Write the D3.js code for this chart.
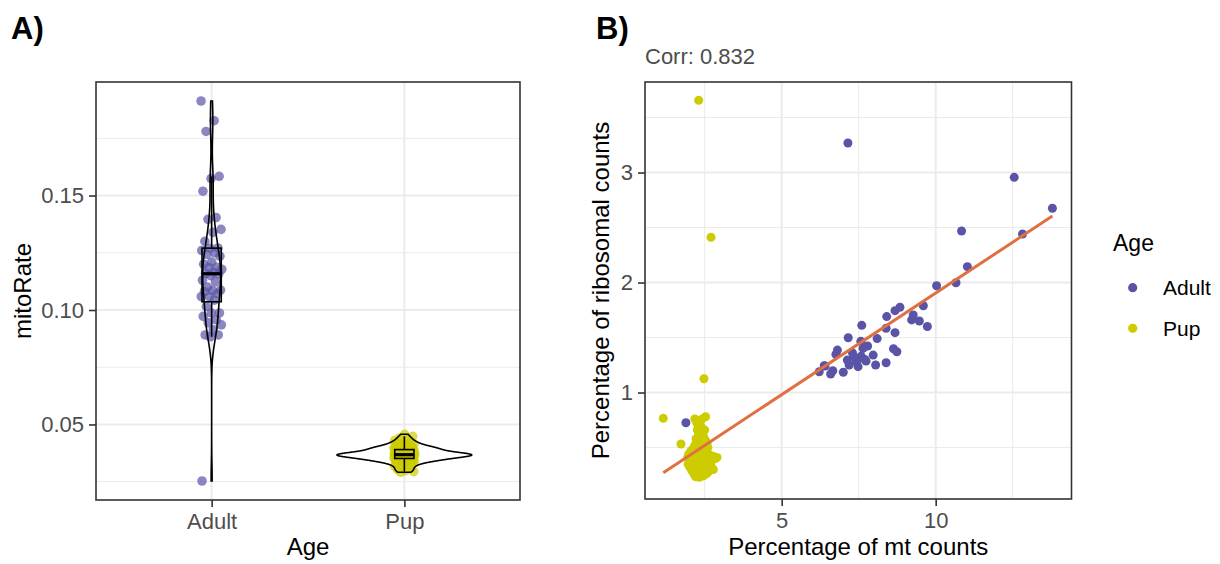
<!DOCTYPE html>
<html><head><meta charset="utf-8">
<script src="https://cdn.jsdelivr.net/npm/d3@7/dist/d3.min.js"></script>
<style>
body{margin:0;background:#fff}
text{font-family:"Liberation Sans",Arial,Helvetica,sans-serif}
</style>
</head><body>
<svg id="c" width="1220" height="564"></svg>
<script>
// ---------- DATA ----------
const groups = ["Adult", "Pup"];
const adultRate = [0.1913,0.1827,0.1780,0.1584,0.1574,0.1519,0.1404,0.1396,0.1352,0.1339,
  0.1300,0.1271,0.1270,0.1260,0.1250,0.1243,0.1235,0.1210,0.1200,0.1187,
  0.1185,0.1178,0.1165,0.1160,0.1157,0.1150,0.1130,0.1123,0.1100,0.1087,
  0.1085,0.1080,0.1072,0.1058,0.1058,0.1043,0.1015,0.0987,0.0987,0.0972,
  0.0957,0.0944,0.0935,0.0913,0.0891,0.0891,0.0883,0.0253];
const pupRate = [0.0291,0.0294,0.0298,0.0303,0.0308,0.0313,0.0318,0.0322,0.0326,0.0329,
  0.0332,0.0335,0.0337,0.0339,0.0340,0.0342,0.0343,0.0344,0.0345,0.0346,
  0.0347,0.0348,0.0349,0.0350,0.0350,
  0.0352,0.0353,0.0354,0.0355,0.0356,0.0357,0.0358,0.0359,0.0360,0.0361,
  0.0362,0.0363,0.0364,0.0364,0.0365,0.0365,0.0366,0.0366,0.0366,0.0367,
  0.0367,0.0367,0.0367,0.0368,0.0368,
  0.0368,0.0369,0.0369,0.0369,0.0370,0.0370,0.0370,0.0371,0.0371,0.0372,
  0.0372,0.0373,0.0374,0.0375,0.0376,0.0377,0.0379,0.0380,0.0382,0.0383,
  0.0385,0.0386,0.0388,0.0389,0.0390,
  0.0391,0.0392,0.0393,0.0394,0.0395,0.0396,0.0397,0.0398,0.0399,0.0400,
  0.0402,0.0404,0.0406,0.0408,0.0410,0.0413,0.0416,0.0419,0.0422,0.0426,
  0.0430,0.0435,0.0441,0.0448,0.0457];
const rateTicks = [0.05, 0.10, 0.15];
const rateMinor = [0.025, 0.075, 0.125, 0.175];

const adultMt = [1.89,7.15,12.55,13.79,12.82,10.84,11.03,10.66,10.03,9.60,
  8.84,8.68,8.41,9.27,9.22,9.47,9.73,8.39,7.60,8.68,
  7.16,8.10,7.57,7.79,7.64,8.63,8.74,6.81,6.76,7.97,
  7.33,7.55,7.13,7.43,7.74,7.19,7.48,8.05,8.39,6.38,
  6.22,6.66,6.59,7.00,6.41,7.58,7.30,7.70];
const adultRibo = [0.725,3.268,2.956,2.675,2.441,2.468,2.144,1.998,1.971,1.789,
  1.775,1.744,1.690,1.705,1.660,1.650,1.600,1.584,1.611,1.544,
  1.498,1.490,1.465,1.423,1.401,1.398,1.371,1.386,1.347,1.340,
  1.326,1.320,1.295,1.280,1.286,1.250,1.235,1.250,1.271,1.244,
  1.189,1.198,1.168,1.184,1.240,1.330,1.360,1.300];
const pupMt = [2.305,2.705,2.477,1.156,2.53,1.73,
  2.18,2.25,2.32,2.40,2.45,2.50,2.30,2.38,2.22,2.52,2.44,2.28,2.35,2.48,2.15,2.60,
  2.05,2.20,2.33,2.45,2.58,
  1.98,2.10,2.25,2.38,2.52,2.66,2.78,
  1.95,2.08,2.18,2.30,2.42,2.55,2.68,2.85,
  2.00,2.12,2.24,2.36,2.48,2.60,2.72,
  1.96,2.06,2.18,2.28,2.40,2.50,2.62,2.70,
  2.02,2.14,2.24,2.34,2.45,2.56,2.66,
  2.08,2.18,2.30,2.40,2.52,2.62,
  2.15,2.26,2.36,2.46,2.56,
  2.22,2.32,2.42,2.12,2.50,2.28,2.40,2.20,2.58,2.35,2.46,2.26,2.36,2.42,
  2.20,2.32,2.44,2.90,2.78];
const pupRibo = [3.656,2.411,1.125,0.765,0.780,0.532,
  0.76,0.72,0.74,0.68,0.64,0.66,0.62,0.60,0.58,0.57,0.55,0.55,0.52,0.51,0.50,0.50,
  0.47,0.47,0.46,0.47,0.46,
  0.44,0.44,0.43,0.44,0.43,0.43,0.42,
  0.41,0.40,0.41,0.40,0.41,0.40,0.40,0.40,
  0.38,0.37,0.38,0.37,0.38,0.37,0.38,
  0.35,0.34,0.35,0.34,0.35,0.34,0.35,0.34,
  0.32,0.31,0.32,0.31,0.32,0.31,0.32,
  0.29,0.28,0.29,0.28,0.29,0.28,
  0.26,0.25,0.26,0.25,0.26,
  0.30,0.36,0.30,0.42,0.45,0.49,0.50,0.53,0.54,0.58,0.60,0.66,0.70,0.76,
  0.235,0.23,0.24,0.41,0.30];
const lmCoef = [0.0575, 0.1847];           // intercept, slope of fitted line
const mtTicks = [5, 10], mtMinor = [2.5, 7.5, 12.5];
const riboTicks = [1, 2, 3], riboMinor = [0.5, 1.5, 2.5, 3.5];
const corrLabel = "Corr: 0.832";

// ---------- STYLE ----------
const colAdult = "#5A54A6", colPup = "#CCCC00", colFit = "#E07042";
const gridCol = "#EBEBEB", borderCol = "#333333", tickTextCol = "#4D4D4D";
const tickFS = 22, titleFS = 24;

const svg = d3.select("#c");

// ================= PANEL A =================
const A = {l: 96, t: 82, r: 520, b: 500};
const xA = d3.scalePoint().domain(groups).range([A.l, A.r]).padding(0.6);
const stepA = xA.step();
const allRate = adultRate.concat(pupRate);
const rExt = d3.extent(allRate), rPad = (rExt[1] - rExt[0]) * 0.05;
const yA = d3.scaleLinear().domain([rExt[0] - rPad, rExt[1] + rPad]).range([A.b, A.t]);

const gA = svg.append("g");
gA.selectAll(".mnA").data(rateMinor).join("line")
  .attr("x1", A.l).attr("x2", A.r).attr("y1", d => yA(d)).attr("y2", d => yA(d))
  .attr("stroke", gridCol).attr("stroke-width", 1);
gA.selectAll(".mjA").data(rateTicks).join("line")
  .attr("x1", A.l).attr("x2", A.r).attr("y1", d => yA(d)).attr("y2", d => yA(d))
  .attr("stroke", gridCol).attr("stroke-width", 2);
gA.selectAll(".vjA").data(groups).join("line")
  .attr("x1", d => xA(d)).attr("x2", d => xA(d)).attr("y1", A.t).attr("y2", A.b)
  .attr("stroke", gridCol).attr("stroke-width", 2);

// jittered points (deterministic spread)
const jitter = i => ((i * 0.6180339887) % 1 - 0.5) * 2 * 0.055 * stepA;
const rateSets = [adultRate, pupRate];
const rateCols = [colAdult, colPup];
rateSets.forEach((arr, gi) => {
  gA.append("g").selectAll("circle").data(arr).join("circle")
    .attr("cx", (d, i) => xA(groups[gi]) + jitter(i + gi * 7))
    .attr("cy", d => yA(d)).attr("r", 4.8)
    .attr("fill", rateCols[gi]).attr("fill-opacity", 0.7);
});

// violins (gaussian KDE, nrd0 bandwidth, trimmed)
function kde(arr) {
  const n = arr.length, s = arr.slice().sort(d3.ascending);
  const sd = d3.deviation(s);
  const iqr = d3.quantileSorted(s, 0.75) - d3.quantileSorted(s, 0.25);
  const bw = 0.9 * Math.min(sd, iqr / 1.34) * Math.pow(n, -0.2);
  const lo = s[0], hi = s[n - 1], pts = [];
  for (let k = 0; k < 512; k++) {
    const v = lo + (hi - lo) * k / 511;
    let sum = 0;
    for (const x of s) { const z = (v - x) / bw; sum += Math.exp(-0.5 * z * z); }
    pts.push([v, sum / (n * bw * Math.sqrt(2 * Math.PI))]);
  }
  return pts;
}
const dens = rateSets.map(kde);
const maxD = d3.max(dens, d => d3.max(d, p => p[1]));
const violinHalf = 0.35 * stepA;
dens.forEach((pts, gi) => {
  const cx = xA(groups[gi]);
  const right = pts.map(p => [cx + p[1] / maxD * violinHalf, yA(p[0])]);
  const left = pts.slice().reverse().map(p => [cx - p[1] / maxD * violinHalf, yA(p[0])]);
  gA.append("path").attr("d", d3.line()(right.concat(left)) + "Z")
    .attr("fill", "none").attr("stroke", "#000").attr("stroke-width", 1.6);
});

// boxplots
const boxHalf = 0.05 * stepA;
rateSets.forEach((arr, gi) => {
  const s = arr.slice().sort(d3.ascending);
  const q1 = d3.quantileSorted(s, 0.25), med = d3.quantileSorted(s, 0.5), q3 = d3.quantileSorted(s, 0.75);
  const iq = q3 - q1;
  const wLo = d3.min(s.filter(v => v >= q1 - 1.5 * iq));
  const wHi = d3.max(s.filter(v => v <= q3 + 1.5 * iq));
  const cx = xA(groups[gi]);
  const g = gA.append("g").attr("stroke", "#000").attr("fill", "none");
  g.append("line").attr("x1", cx).attr("x2", cx).attr("y1", yA(q3)).attr("y2", yA(wHi)).attr("stroke-width", 1.6);
  g.append("line").attr("x1", cx).attr("x2", cx).attr("y1", yA(q1)).attr("y2", yA(wLo)).attr("stroke-width", 1.6);
  g.append("rect").attr("x", cx - boxHalf).attr("width", 2 * boxHalf)
    .attr("y", yA(q3)).attr("height", yA(q1) - yA(q3)).attr("stroke-width", 1.6);
  g.append("line").attr("x1", cx - boxHalf).attr("x2", cx + boxHalf)
    .attr("y1", yA(med)).attr("y2", yA(med)).attr("stroke-width", 3.2);
});

gA.append("rect").attr("x", A.l).attr("y", A.t).attr("width", A.r - A.l).attr("height", A.b - A.t)
  .attr("fill", "none").attr("stroke", borderCol).attr("stroke-width", 1.6);

function styleAxis(sel) {
  sel.select(".domain").remove();
  sel.selectAll(".tick line").attr("stroke", borderCol).attr("stroke-width", 1.6);
  sel.selectAll(".tick text").attr("fill", tickTextCol).attr("font-size", tickFS)
    .attr("font-family", '"Liberation Sans",Arial,sans-serif');
}
svg.append("g").attr("transform", `translate(${A.l},0)`)
  .call(d3.axisLeft(yA).tickValues(rateTicks).tickFormat(d3.format(".2f")).tickSize(7).tickPadding(5))
  .call(styleAxis);
svg.append("g").attr("transform", `translate(0,${A.b})`)
  .call(d3.axisBottom(xA).tickSize(7).tickPadding(6))
  .call(styleAxis);

svg.append("text").attr("x", (A.l + A.r) / 2).attr("y", 555).attr("text-anchor", "middle")
  .attr("font-size", titleFS).text("Age");
svg.append("text").attr("transform", `translate(31,${(A.t + A.b) / 2}) rotate(-90)`)
  .attr("text-anchor", "middle").attr("font-size", titleFS).text("mitoRate");
svg.append("text").attr("x", 11).attr("y", 39).attr("font-size", 31).attr("font-weight", "bold").text("A)");

// ================= PANEL B =================
const B = {l: 645, t: 82, r: 1071.5, b: 499};
const xB = d3.scaleLinear().domain([0.562, 14.41]).range([B.l, B.r]);
const yB = d3.scaleLinear().domain([0.032, 3.823]).range([B.b, B.t]);
const gB = svg.append("g");
gB.selectAll(".mnBx").data(mtMinor).join("line")
  .attr("x1", d => xB(d)).attr("x2", d => xB(d)).attr("y1", B.t).attr("y2", B.b)
  .attr("stroke", gridCol).attr("stroke-width", 1);
gB.selectAll(".mnBy").data(riboMinor).join("line")
  .attr("y1", d => yB(d)).attr("y2", d => yB(d)).attr("x1", B.l).attr("x2", B.r)
  .attr("stroke", gridCol).attr("stroke-width", 1);
gB.selectAll(".mjBx").data(mtTicks).join("line")
  .attr("x1", d => xB(d)).attr("x2", d => xB(d)).attr("y1", B.t).attr("y2", B.b)
  .attr("stroke", gridCol).attr("stroke-width", 2);
gB.selectAll(".mjBy").data(riboTicks).join("line")
  .attr("y1", d => yB(d)).attr("y2", d => yB(d)).attr("x1", B.l).attr("x2", B.r)
  .attr("stroke", gridCol).attr("stroke-width", 2);

gB.append("g").selectAll("circle").data(adultMt).join("circle")
  .attr("cx", d => xB(d)).attr("cy", (d, i) => yB(adultRibo[i])).attr("r", 4.5).attr("fill", colAdult);
gB.append("g").selectAll("circle").data(pupMt).join("circle")
  .attr("cx", d => xB(d)).attr("cy", (d, i) => yB(pupRibo[i])).attr("r", 4.5).attr("fill", colPup);

const allMt = adultMt.concat(pupMt);
const fitX = d3.extent(allMt);
gB.append("path").datum(fitX)
  .attr("d", d3.line().x(d => xB(d)).y(d => yB(lmCoef[0] + lmCoef[1] * d)))
  .attr("stroke", colFit).attr("stroke-width", 3).attr("fill", "none");

gB.append("rect").attr("x", B.l).attr("y", B.t).attr("width", B.r - B.l).attr("height", B.b - B.t)
  .attr("fill", "none").attr("stroke", borderCol).attr("stroke-width", 1.6);

svg.append("g").attr("transform", `translate(${B.l},0)`)
  .call(d3.axisLeft(yB).tickValues(riboTicks).tickFormat(d3.format("d")).tickSize(7).tickPadding(5))
  .call(styleAxis);
svg.append("g").attr("transform", `translate(0,${B.b})`)
  .call(d3.axisBottom(xB).tickValues(mtTicks).tickFormat(d3.format("d")).tickSize(7).tickPadding(6))
  .call(styleAxis);

svg.append("text").attr("x", (B.l + B.r) / 2).attr("y", 555).attr("text-anchor", "middle")
  .attr("font-size", titleFS).text("Percentage of mt counts");
svg.append("text").attr("transform", `translate(609,${(B.t + B.b) / 2}) rotate(-90)`)
  .attr("text-anchor", "middle").attr("font-size", titleFS).text("Percentage of ribosomal counts");
svg.append("text").attr("x", 645).attr("y", 64).attr("font-size", tickFS).attr("fill", tickTextCol).text(corrLabel);
svg.append("text").attr("x", 596).attr("y", 39).attr("font-size", 31).attr("font-weight", "bold").text("B)");

// legend
const lg = svg.append("g");
lg.append("text").attr("x", 1113).attr("y", 251).attr("font-size", 23).text("Age");
const legCols = [colAdult, colPup];
lg.selectAll("circle").data(groups).join("circle")
  .attr("cx", 1132.7).attr("cy", (d, i) => 287.7 + i * 40.6).attr("r", 4.6).attr("fill", (d, i) => legCols[i]);
lg.selectAll(".lt").data(groups).join("text")
  .attr("x", 1163).attr("y", (d, i) => 295 + i * 40.6).attr("font-size", 21).text(d => d);
</script>
</body></html>
